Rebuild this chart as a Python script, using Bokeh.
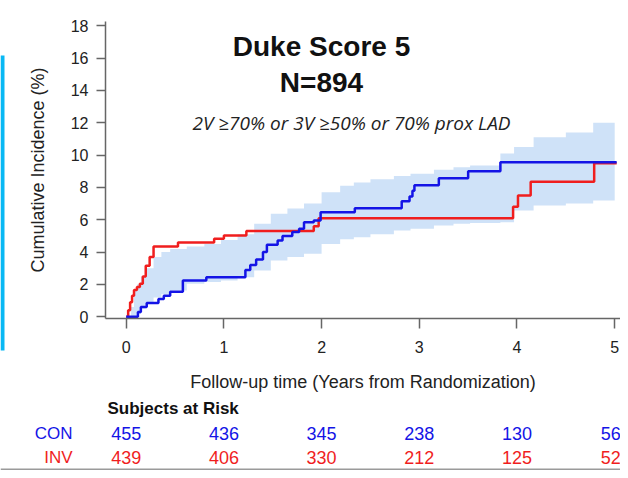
from bokeh.plotting import figure
from bokeh.models import Label, FixedTicker, BoxAnnotation
from bokeh.embed import file_html
from bokeh.resources import INLINE

# cumulative incidence (%), step curves
con_t = [0, 0.12, 0.15, 0.21, 0.33, 0.385, 0.45, 0.58, 0.82, 1.22, 1.27, 1.33, 1.40, 1.44,
         1.55, 1.60, 1.70, 1.77, 1.82, 1.92, 1.99, 2.34, 2.82, 2.90, 2.93, 2.95, 3.20,
         3.50, 3.83, 5.02]
con_y = [0, 0.3, 0.6, 0.86, 1.1, 1.3, 1.55, 2.25, 2.45, 2.9, 3.2, 3.55, 4.0, 4.45,
         4.72, 5.0, 5.25, 5.45, 5.85, 5.95, 6.47, 6.72, 7.15, 7.44, 7.8, 8.14, 8.57,
         9.0, 9.56, 9.56]

inv_t = [0, 0.02, 0.04, 0.06, 0.08, 0.11, 0.14, 0.17, 0.20, 0.24, 0.28, 0.53, 0.90,
         1.00, 1.23, 1.92, 1.97, 3.96, 4.01, 4.14, 4.79, 5.02]
inv_y = [0, 0.4, 0.9, 1.3, 1.65, 1.85, 2.05, 2.5, 3.15, 3.7, 4.35, 4.6, 4.82,
         5.03, 5.3, 5.6, 6.1, 6.8, 7.5, 8.35, 9.5, 9.5]

# confidence band
band_t = [0.05, 0.08, 0.11, 0.15, 0.20, 0.28, 0.36, 0.45, 0.62, 0.80, 0.97, 1.14, 1.31,
          1.48, 1.65, 1.82, 2.00, 2.19, 2.33, 2.50, 2.74, 2.91, 3.15, 3.35, 3.52, 3.83,
          3.97, 4.17, 4.50, 4.78, 5.00]
band_hi = [0.6, 1.6, 2.0, 2.5, 3.0, 3.7, 4.0, 4.2, 4.35, 4.5, 4.75, 5.1, 5.75,
           6.37, 6.7, 7.0, 7.7, 8.1, 8.3, 8.5, 8.7, 8.84, 9.1, 9.25, 9.36, 10.1,
           10.5, 11.1, 11.4, 12.0, 12.0]
band_lo = [0.0, 0.0, 0.18, 0.5, 0.8, 1.2, 1.4, 1.63, 2.04, 2.15, 2.25, 2.45, 2.86,
           3.48, 3.7, 3.9, 4.5, 4.8, 4.92, 5.1, 5.34, 5.45, 5.65, 5.75, 5.8, 5.85,
           6.57, 6.88, 7.0, 7.2, 7.2]

risk_years = [0, 1, 2, 3, 4, 5]
con_risk = [455, 436, 345, 238, 130, 56]
inv_risk = [439, 406, 330, 212, 125, 52]

BLUE = "#1414e6"
RED = "#f01e1e"
FONT = "Liberation Sans"

# frame fills the whole canvas, axes sit at fixed data locations so that
# the risk table below the axis can be drawn with labels
p = figure(width=620, height=470, output_backend="svg", toolbar_location=None,
           x_range=(-1.2866, 5.0594), y_range=(-9.505, 19.561),
           min_border=0)
p.outline_line_color = None
p.grid.visible = False

p.varea_step(x=band_t, y1=band_lo, y2=band_hi, step_mode="after", fill_color="#cfe2f8")
p.step(inv_t, inv_y, mode="after", line_width=2.5, color=RED)
p.step(con_t, con_y, mode="after", line_width=2.5, color=BLUE)

for ax in (p.xaxis[0], p.yaxis[0]):
    ax.axis_line_color = "#666666"
    ax.axis_line_width = 1.5
    ax.major_tick_line_color = "#666666"
    ax.major_tick_line_width = 1.5
    ax.major_tick_in = 0
    ax.minor_tick_line_color = None
    ax.major_label_text_font = FONT
    ax.major_label_text_font_size = "16px"
    ax.major_label_text_color = "#222222"
    ax.axis_label_text_font = FONT
    ax.axis_label_text_font_size = "18px"
    ax.axis_label_text_font_style = "normal"
    ax.axis_label_text_color = "#222222"

p.xaxis.fixed_location = -0.105
p.xaxis.bounds = (-0.212, 5.06)
p.xaxis.ticker = FixedTicker(ticks=[0, 1, 2, 3, 4, 5])
p.xaxis.major_tick_out = 10
p.xaxis.major_label_standoff = 12
p.xaxis.axis_label = "Follow-up time (Years from Randomization)"
p.xaxis.axis_label_standoff = 16

p.yaxis.fixed_location = -0.212
p.yaxis.bounds = (-0.105, 18.28)
p.yaxis.ticker = FixedTicker(ticks=list(range(0, 19, 2)))
p.yaxis.major_tick_out = 9
p.yaxis.major_label_standoff = 8
p.yaxis.axis_label = "Cumulative Incidence (%)"
p.yaxis.axis_label_standoff = 20

# label positions are in px from the bottom-left corner
def lab(x, y, text, **kw):
    opts = dict(x_units="screen", y_units="screen", text_font=FONT,
                text_baseline="middle", text_color="#111111")
    opts.update(kw)
    p.add_layout(Label(x=x, y=y, text=text, **opts))

lab(321, 424, "Duke Score 5", text_font_style="bold", text_font_size="28px", text_align="center")
lab(321, 388, "N=894", text_font_style="bold", text_font_size="28px", text_align="center")
lab(351, 348, "2V \u226570% or 3V \u226550% or 70% prox LAD", text_font="Open Sans",
    text_font_style="italic", text_font_size="19px", text_align="center", text_color="#222222")

# subjects at risk table
lab(107, 62, "Subjects at Risk", text_font_style="bold", text_font_size="17px", text_align="left")
for name, color, ypix, counts in (("CON", BLUE, 37, con_risk), ("INV", RED, 13, inv_risk)):
    lab(72, ypix, name, text_font_size="17px", text_color=color, text_align="right")
    for i, (yr, n) in enumerate(zip(risk_years, counts)):
        last = i == len(risk_years) - 1
        p.add_layout(Label(x=yr, y=ypix, x_units="data", y_units="screen", text=str(n),
                           x_offset=6 if last else 0,
                           text_font=FONT, text_font_size="18px", text_color=color,
                           text_align="right" if last else "center", text_baseline="middle"))

# cyan edge of the slide box and the grey rule at the bottom
p.add_layout(BoxAnnotation(left=0, right=4, bottom=120, top=415, left_units="screen",
                           right_units="screen", bottom_units="screen", top_units="screen",
                           fill_color="#08b8f4", fill_alpha=1, line_color=None))
p.add_layout(BoxAnnotation(left=0, right=620, bottom=0, top=2, left_units="screen",
                           right_units="screen", bottom_units="screen", top_units="screen",
                           fill_color="#9a9a9a", fill_alpha=1, line_color=None))

open("out.html", "w").write(file_html(p, INLINE))
